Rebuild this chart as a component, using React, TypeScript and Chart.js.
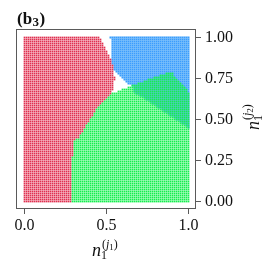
import React, { useEffect, useRef } from 'react';
import { Chart, registerables } from 'chart.js';

Chart.register(...registerables);

// Sample grid on [0,1] (both axes), spacing (~2px)
const gridCoords: number[] = Array.from({ length: 83 }, (_, i) => i / 82);

// Region boundaries
// Red region: right edge x as a function of y (upper part); below, green takes over
const redEdgeY = [0.655, 0.7, 0.742, 0.804, 0.865, 0.926, 1.0];
const redEdgeX = [0.53, 0.545, 0.55, 0.545, 0.525, 0.5, 0.463];

// Blue region: left edge (x as function of y) and bottom edge (y as function of x)
const blueLeftY = [0.7, 0.712, 0.742, 0.785, 0.8, 0.865, 1.0];
const blueLeftX = [0.66, 0.64, 0.604, 0.56, 0.545, 0.53, 0.524];
const blueBottomX = [0.5, 0.524, 0.628, 1.0];
const blueBottomY = [0.64, 0.655, 0.695, 0.448];

// Green region: left edge (x as function of y) and top edge (y as function of x)
const greenLeftY = [0, 0.19, 0.33, 0.374, 0.39, 0.436, 0.497, 0.558, 0.62, 0.655];
const greenLeftX = [0.29, 0.287, 0.297, 0.305, 0.33, 0.36, 0.4, 0.435, 0.49, 0.524];
const greenTopX = [0.524, 0.634, 0.748, 0.878, 0.9, 1.0];
const greenTopY = [0.655, 0.7, 0.742, 0.785, 0.785, 0.67];

const xTicks = [0, 0.5, 1.0];
const yTicks = [0, 0.25, 0.5, 0.75, 1.0];

// axis limits (a little padding round [0,1])
const X_MIN = -0.05183;
const X_MAX = 1.04573;
const Y_MIN = -0.04573;
const Y_MAX = 1.05183;

const RED = 'rgb(224,48,80)';
const BLUE = 'rgb(58,158,252)';
const GREEN = 'rgb(22,238,78)';

function interp(xs: number[], ys: number[], v: number): number {
  if (v <= xs[0]) return ys[0];
  if (v >= xs[xs.length - 1]) return ys[ys.length - 1];
  for (let i = 1; i < xs.length; i++) {
    if (v <= xs[i]) {
      const t = (v - xs[i - 1]) / (xs[i] - xs[i - 1]);
      return ys[i - 1] + t * (ys[i] - ys[i - 1]);
    }
  }
  return ys[ys.length - 1];
}

const isGreen = (x: number, y: number) =>
  x >= interp(greenLeftY, greenLeftX, y) - 1e-9 && y <= interp(greenTopX, greenTopY, x) + 1e-9;
const isBlue = (x: number, y: number) =>
  x >= interp(blueLeftY, blueLeftX, y) - 1e-9 && y >= interp(blueBottomX, blueBottomY, x) - 1e-9;
const isRed = (x: number, y: number) => {
  if (isGreen(x, y)) return false;
  if (y < redEdgeY[0]) return true;
  return x <= interp(redEdgeY, redEdgeX, y) + 1e-9;
};

function buildPoints() {
  const red: { x: number; y: number }[] = [];
  const blue: { x: number; y: number }[] = [];
  const green: { x: number; y: number }[] = [];
  for (const y of gridCoords) {
    for (const x of gridCoords) {
      if (isGreen(x, y)) green.push({ x, y });
      if (isBlue(x, y)) blue.push({ x, y });
      if (isRed(x, y)) red.push({ x, y });
    }
  }
  return { red, blue, green };
}

const SERIF = '"Liberation Serif", "DejaVu Serif", serif';

type Seg = { t: string; font: string; dy: number };

function drawSegs(ctx: CanvasRenderingContext2D, segs: Seg[]) {
  let x = 0;
  for (const s of segs) {
    ctx.font = s.font;
    ctx.fillText(s.t, x, s.dy);
    x += ctx.measureText(s.t).width;
  }
}

function drawLabel(ctx: CanvasRenderingContext2D, sub: string) {
  ctx.font = `italic 18px ${SERIF}`;
  ctx.fillText('n', 0, 0);
  const nw = ctx.measureText('n').width;
  ctx.font = `12px ${SERIF}`;
  ctx.fillText('1', nw, 3);
  ctx.translate(nw + 1, -8);
  drawSegs(ctx, [
    { t: '(', font: `12px ${SERIF}`, dy: 0 },
    { t: 'j', font: `italic 12px ${SERIF}`, dy: 0 },
    { t: sub, font: `9px ${SERIF}`, dy: 2 },
    { t: ')', font: `12px ${SERIF}`, dy: 0 },
  ]);
}

const decorPlugin = {
  id: 'decor',
  afterDraw(chart: any) {
    const { ctx, chartArea } = chart;
    const { left, right, top, bottom } = chartArea;
    ctx.save();
    // frame
    ctx.strokeStyle = '#5a5a5a';
    ctx.lineWidth = 1;
    ctx.strokeRect(left + 0.5, top + 0.5, right - left - 1, bottom - top - 1);

    ctx.fillStyle = '#111';
    ctx.textBaseline = 'alphabetic';
    ctx.textAlign = 'left';

    // panel title (b_3)
    ctx.save();
    ctx.translate(17, 24);
    const bf = `bold 17px ${SERIF}`;
    ctx.font = bf;
    let x = 0;
    ctx.fillText('(', x, 0); x += ctx.measureText('(').width;
    ctx.fillText('b', x, 0); x += ctx.measureText('b').width;
    ctx.font = `bold 13px ${SERIF}`;
    ctx.fillText('3', x + 0.5, 2); x += ctx.measureText('3').width + 1;
    ctx.font = bf;
    ctx.fillText(')', x, 0);
    ctx.restore();

    // x label n_1^{(j_1)}
    ctx.save();
    ctx.translate(92, 256);
    drawLabel(ctx, '1');
    ctx.restore();

    // y label n_1^{(j_2)} rotated
    ctx.save();
    ctx.translate(259, 130);
    ctx.rotate(-Math.PI / 2);
    drawLabel(ctx, '2');
    ctx.restore();

    ctx.restore();
  },
};

export default function App() {
  const ref = useRef<HTMLCanvasElement | null>(null);

  useEffect(() => {
    if (!ref.current) return;
    const { red, blue, green } = buildPoints();
    const common = {
      pointStyle: 'rect',
      pointHoverRadius: 0,
      borderWidth: 0,
      pointBorderWidth: 0,
    };
    const chart = new Chart(ref.current, {
      type: 'scatter',
      data: {
        datasets: [
          { label: 'green', data: green, backgroundColor: GREEN, pointBackgroundColor: GREEN, pointRadius: 1.22, order: 0, ...common },
          { label: 'red', data: red, backgroundColor: RED, pointBackgroundColor: RED, pointRadius: 1.2, order: 1, ...common },
          { label: 'blue', data: blue, backgroundColor: BLUE, pointBackgroundColor: BLUE, pointRadius: 1.42, order: 2, ...common },
        ],
      } as any,
      options: {
        responsive: false,
        animation: false,
        events: [],
        layout: { padding: { left: 16, top: 29, right: 0, bottom: 0 } },
        plugins: { legend: { display: false }, tooltip: { enabled: false }, title: { display: false } },
        scales: {
          x: {
            type: 'linear',
            position: 'bottom',
            min: X_MIN,
            max: X_MAX,
            afterBuildTicks: (s: any) => {
              s.ticks = xTicks.map((v) => ({ value: v }));
            },
            afterFit: (s: any) => {
              s.height = 65;
            },
            ticks: {
              callback: (v: any) => Number(v).toFixed(1),
              font: { family: SERIF, size: 16 },
              color: '#111',
              padding: 2,
              maxRotation: 0,
              autoSkip: false,
            },
            grid: { drawOnChartArea: false, drawTicks: true, tickLength: 5, color: '#5a5a5a' },
            border: { display: false },
          },
          y: {
            type: 'linear',
            position: 'right',
            min: Y_MIN,
            max: Y_MAX,
            afterBuildTicks: (s: any) => {
              s.ticks = yTicks.map((v) => ({ value: v }));
            },
            afterFit: (s: any) => {
              s.width = 78;
            },
            ticks: {
              callback: (v: any) => Number(v).toFixed(2),
              font: { family: SERIF, size: 16 },
              color: '#111',
              padding: 4,
              autoSkip: false,
            },
            grid: { drawOnChartArea: false, drawTicks: true, tickLength: 5, color: '#5a5a5a' },
            border: { display: false },
          },
        },
      } as any,
      plugins: [decorPlugin],
    });
    return () => chart.destroy();
  }, []);

  return (
    <div style={{ position: 'absolute', left: 0, top: 0, width: 274, height: 274, background: '#fff' }}>
      <canvas ref={ref} width={274} height={274} style={{ display: 'block', width: 274, height: 274 }} />
    </div>
  );
}
